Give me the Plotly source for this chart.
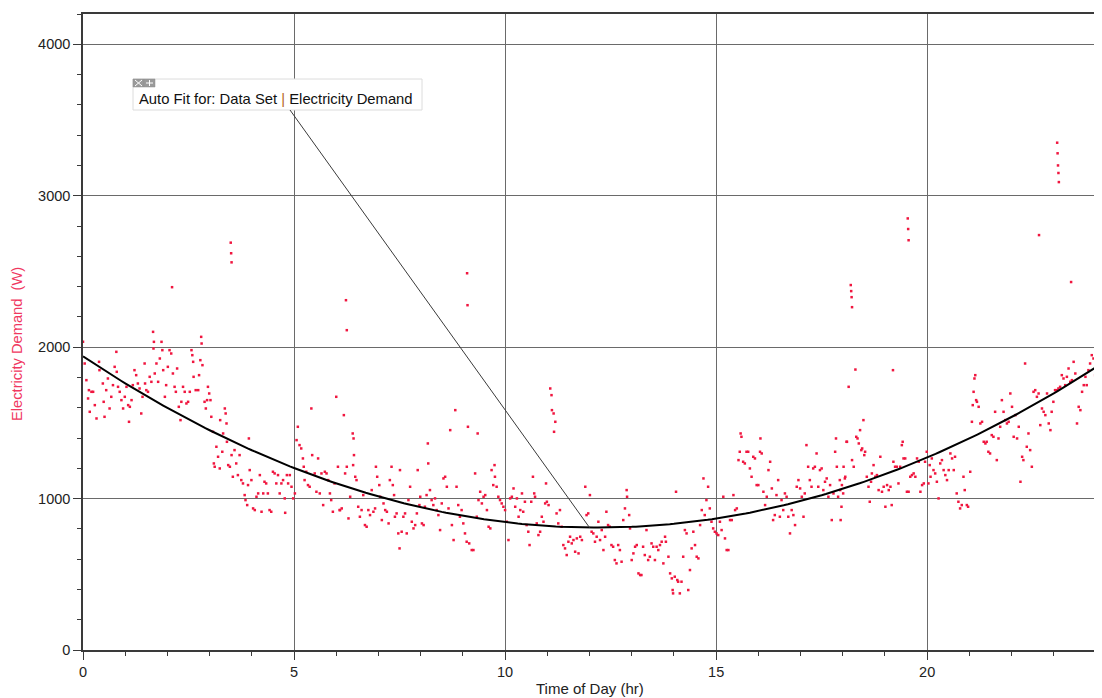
import plotly.graph_objects as go

# ---------------- data ----------------
# (time of day in hours, electricity demand in W)
early_morning = [
    (0.00, 2035), (0.04, 1892), (0.08, 1782), (0.14, 1716), (0.20, 1705), (0.12, 1661),
    (0.24, 1705), (0.28, 1617), (0.32, 1529), (0.16, 1573), (0.38, 1903), (0.39, 1848),
    (0.47, 1760), (0.49, 1639), (0.51, 1540), (0.55, 1716), (0.59, 1793), (0.63, 1595),
    (0.67, 1672), (0.71, 1749), (0.75, 1870), (0.79, 1969), (0.80, 1837), (0.83, 1738),
    (0.87, 1705), (0.91, 1650), (0.95, 1595), (0.99, 1672), (1.03, 1738), (1.07, 1617),
    (1.11, 1606), (1.09, 1507), (1.15, 1650), (1.18, 1749), (1.22, 1848), (1.26, 1815),
    (1.30, 1760), (1.34, 1727), (1.38, 1562), (1.41, 1672), (1.46, 1892), (1.47, 1760),
    (1.50, 1716), (1.54, 1705), (1.58, 1804), (1.62, 1771), (1.66, 2101), (1.67, 1991),
    (1.68, 2035), (1.70, 1826), (1.74, 1892), (1.78, 1771), (1.82, 1925), (1.86, 2035),
    (1.88, 1980), (1.90, 1848), (1.94, 1672), (1.97, 1749), (2.01, 1870), (2.05, 1980),
    (2.09, 1958), (2.13, 1826), (2.17, 1738), (2.20, 1705), (2.23, 1859), (2.27, 1606),
    (2.31, 1518), (2.33, 1639), (2.37, 1738), (2.41, 1705), (2.45, 1628), (2.49, 1639),
    (2.53, 1705), (2.57, 1980), (2.59, 1947), (2.61, 1903), (2.62, 1804), (2.67, 1716),
    (2.73, 1716), (2.75, 1815), (2.78, 1914), (2.80, 2068), (2.81, 2024), (2.83, 1881),
    (2.88, 1639), (2.91, 1595), (2.94, 1650), (2.96, 1738), (2.99, 1694), (3.02, 1650),
    (3.04, 1540), (3.08, 1441), (3.10, 1232), (3.12, 1210), (3.16, 1342), (3.20, 1276),
    (3.24, 1199), (3.25, 1518), (3.30, 1309), (3.32, 1430), (3.36, 1595), (3.38, 1562),
    (3.40, 1496), (3.41, 1375), (3.44, 1221), (3.48, 1210), (3.52, 1287), (3.55, 1144),
    (3.59, 1320), (3.63, 1232), (3.67, 1155), (3.71, 1287), (3.75, 1122), (3.79, 1100),
    (3.83, 1023), (3.85, 990), (3.89, 957), (3.91, 1089), (3.93, 1397), (3.95, 1188),
    (3.99, 1122), (4.03, 935), (4.07, 924), (4.11, 1012), (4.15, 1034), (4.19, 1155),
    (4.23, 913), (4.27, 1034), (4.30, 1111), (4.34, 1100), (4.38, 1034), (4.42, 924),
    (4.46, 913), (4.50, 1177), (4.54, 1166), (4.58, 1100), (4.62, 1155), (4.66, 1034),
    (4.70, 1100), (4.74, 1122), (4.78, 1001), (4.79, 906), (4.83, 1155), (4.86, 1100),
    (4.90, 1155), (4.94, 1078), (4.98, 1001), (5.02, 1034),
]

morning = [
    (5.06, 1386), (5.09, 1474), (5.13, 1353), (5.17, 1331), (5.21, 1265), (5.23, 1210),
    (5.25, 1122), (5.29, 1177), (5.33, 1089), (5.37, 1078), (5.41, 1595), (5.43, 1287),
    (5.49, 1166), (5.53, 1045), (5.57, 1265), (5.61, 1034), (5.65, 1166), (5.69, 957),
    (5.73, 1177), (5.77, 1166), (5.81, 1122), (5.85, 1034), (5.88, 990), (5.92, 913),
    (5.96, 1100), (6.00, 1672), (6.04, 1210), (6.08, 924),
    (6.09, 924), (6.13, 935), (6.18, 1551), (6.21, 1166), (6.25, 1210), (6.29, 869),
    (6.33, 1012), (6.39, 1430), (6.41, 1397), (6.42, 1287), (6.40, 1221), (6.45, 1144),
    (6.48, 1122), (6.52, 946), (6.56, 880), (6.60, 924), (6.64, 1023), (6.68, 825),
    (6.72, 814), (6.76, 924), (6.80, 891), (6.84, 1056), (6.88, 913), (6.92, 935),
    (6.94, 1210), (6.97, 1144), (7.02, 1089), (7.04, 1012), (7.08, 858), (7.12, 968),
    (7.16, 924), (7.20, 913), (7.24, 836), (7.27, 1122), (7.31, 1210), (7.34, 1089),
    (7.37, 1023), (7.39, 880), (7.43, 902), (7.47, 770), (7.50, 671), (7.51, 1188),
    (7.55, 781), (7.59, 880), (7.63, 902), (7.67, 770), (7.71, 990), (7.75, 1078),
    (7.79, 847), (7.83, 803), (7.87, 825), (7.91, 902), (7.93, 1188), (7.97, 957),
    (7.99, 1012), (8.03, 836), (8.07, 825), (8.10, 946), (8.14, 1023), (8.17, 1364),
    (8.18, 1232), (8.22, 1056), (8.26, 990), (8.30, 957), (8.34, 1001), (8.38, 924),
    (8.42, 891), (8.46, 792), (8.50, 968), (8.54, 1133), (8.58, 1144), (8.62, 1078),
    (8.66, 935), (8.70, 1452), (8.74, 825), (8.78, 726), (8.82, 1584), (8.85, 1078),
    (8.89, 957), (8.93, 880), (8.97, 924), (9.01, 836), (9.05, 770), (9.09, 715),
    (9.12, 1474), (9.15, 704), (9.21, 660), (9.25, 660), (9.29, 1166), (9.33, 880),
    (9.35, 1430), (9.37, 990), (9.41, 1045), (9.45, 968), (9.49, 1012), (9.53, 1023),
    (9.57, 924), (9.61, 814), (9.65, 803), (9.68, 1188), (9.72, 1089), (9.75, 1221),
    (9.76, 1144), (9.80, 1078), (9.84, 1012), (9.88, 990), (9.92, 968), (9.96, 946),
    (10.00, 924), (10.04, 847), (10.08, 726), (10.12, 1001), (10.16, 1012), (10.20, 1067),
    (10.24, 946), (10.28, 1001), (10.32, 880), (10.36, 924), (10.40, 1034), (10.43, 913),
    (10.47, 979), (10.51, 825), (10.55, 781), (10.58, 693), (10.62, 979), (10.66, 1144),
    (10.69, 1034), (10.71, 1012), (10.75, 836), (10.79, 759), (10.83, 781), (10.87, 880),
    (10.91, 847), (10.95, 968), (10.97, 1100), (10.99, 979), (11.03, 957), (11.07, 1727),
    (11.10, 1683), (11.11, 1584), (11.15, 1562), (11.16, 1441), (11.19, 1507), (11.22, 902),
    (11.26, 836), (11.30, 924), (11.34, 814), (11.38, 693), (11.42, 671), (11.46, 627),
    (11.50, 715), (11.54, 748), (11.58, 704), (11.62, 726), (11.66, 649), (11.70, 737),
    (11.74, 638), (11.78, 748), (11.82, 726), (11.90, 1078), (11.93, 891), (11.97, 902),
    (12.01, 1023), (12.05, 781), (12.13, 715), (12.17, 748), (12.21, 847),
]

afternoon = [
    (12.09, 770), (12.25, 726), (12.29, 792), (12.33, 660), (12.37, 748), (12.40, 913),
    (12.44, 825), (12.48, 814), (12.52, 693), (12.56, 682), (12.60, 594), (12.64, 572),
    (12.68, 693), (12.72, 660), (12.76, 583), (12.80, 858), (12.84, 935), (12.88, 1056),
    (12.89, 1012), (12.94, 891), (12.96, 803), (13.00, 594), (13.04, 638), (13.08, 682),
    (13.12, 693), (13.16, 506), (13.20, 495), (13.23, 495), (13.27, 682), (13.31, 627),
    (13.35, 792), (13.39, 594), (13.43, 616), (13.47, 704), (13.51, 682), (13.55, 594),
    (13.59, 682), (13.63, 660), (13.67, 693), (13.71, 715), (13.75, 572), (13.79, 748),
    (13.81, 715), (13.87, 616), (13.91, 506), (13.95, 473), (13.97, 396), (13.98, 374),
    (14.02, 484), (14.05, 1045), (14.08, 462), (14.10, 451), (14.14, 374), (14.18, 451),
    (14.22, 616), (14.26, 792), (14.30, 770), (14.34, 396), (14.38, 528), (14.42, 671),
    (14.46, 781), (14.50, 693), (14.54, 616), (14.58, 605), (14.62, 825), (14.66, 924),
    (14.70, 1133), (14.73, 891), (14.77, 990), (14.81, 1078), (14.85, 935), (14.89, 847),
    (14.93, 803), (14.97, 781), (15.01, 770), (15.05, 759), (15.09, 847), (15.13, 792),
    (15.17, 1012), (15.21, 737), (15.25, 660), (15.29, 660), (15.33, 858), (15.37, 858),
    (15.41, 1023), (15.45, 924), (15.49, 935), (15.53, 1254), (15.56, 1309), (15.58, 1430),
    (15.60, 1408), (15.64, 1243), (15.68, 1232), (15.72, 1309), (15.76, 1309), (15.80, 1199),
    (15.84, 1144), (15.88, 1276), (15.92, 1265), (15.96, 1089), (16.00, 1089), (16.04, 1309),
    (16.05, 1397), (16.08, 1298), (16.12, 1045), (16.16, 957), (16.20, 1012), (16.24, 1188),
    (16.28, 1243), (16.32, 1067), (16.35, 858), (16.39, 891), (16.43, 1023), (16.47, 1122),
    (16.51, 880), (16.55, 990), (16.59, 924), (16.63, 1034), (16.67, 1012), (16.71, 880),
    (16.75, 770), (16.79, 924), (16.83, 891), (16.87, 825), (16.91, 1078), (16.95, 1122),
    (16.99, 1067), (17.03, 1012), (17.07, 880), (17.10, 1034), (17.14, 1353), (17.18, 1210),
    (17.22, 1122), (17.26, 1078), (17.30, 1199), (17.34, 1210), (17.38, 1298), (17.42, 1078),
    (17.46, 1188), (17.50, 1199), (17.54, 1056), (17.58, 1111), (17.62, 1133), (17.66, 1012),
    (17.70, 1089), (17.74, 858), (17.78, 1034), (17.82, 1309), (17.84, 1397), (17.86, 1210),
    (17.89, 1012), (17.93, 1122), (17.97, 946), (18.01, 1034), (18.05, 1133), (18.09, 1375),
]

evening = [
    (17.94, 1056), (17.98, 1089), (17.95, 858), (18.02, 1210), (18.06, 1144), (18.10, 1375),
    (18.14, 1738), (18.22, 1254), (18.26, 1210), (18.30, 1852), (18.32, 1408), (18.35, 1397),
    (18.38, 1364), (18.41, 1452), (18.44, 1320), (18.46, 1331), (18.49, 1518), (18.51, 1287),
    (18.53, 1309), (18.57, 1144), (18.61, 1078), (18.64, 979), (18.67, 1111), (18.69, 1166),
    (18.73, 1221), (18.77, 1144), (18.81, 1155), (18.85, 1056), (18.89, 1276), (18.93, 1045),
    (18.97, 1078), (19.01, 946), (19.05, 1089), (19.09, 1056), (19.13, 1078), (19.16, 957),
    (19.19, 1848), (19.20, 1243), (19.24, 1210), (19.28, 1210), (19.32, 1100), (19.36, 1210),
    (19.40, 1353), (19.42, 1375), (19.44, 1265), (19.48, 1265), (19.52, 1045), (19.56, 1045),
    (19.60, 1144), (19.64, 1155), (19.68, 1166), (19.72, 1144), (19.76, 1265), (19.80, 1243),
    (19.84, 1045), (19.88, 1089), (19.92, 1100), (19.95, 1243), (19.99, 1309), (20.03, 1100),
    (20.06, 1221), (20.08, 1144), (20.11, 1265), (20.15, 1188), (20.19, 1166), (20.23, 1111),
    (20.27, 1001), (20.31, 1232), (20.35, 1254), (20.39, 1188), (20.43, 1155), (20.47, 1122),
    (20.51, 1188), (20.55, 1298), (20.59, 1265), (20.63, 1188), (20.66, 1276), (20.70, 1034),
    (20.74, 979), (20.78, 935), (20.82, 957), (20.86, 1144), (20.89, 1056), (20.94, 957),
    (20.97, 946), (21.02, 1177), (21.06, 1507), (21.08, 1617), (21.10, 1705), (21.12, 1793),
    (21.14, 1815), (21.16, 1650), (21.18, 1639), (21.22, 1606), (21.26, 1496), (21.30, 1507),
    (21.34, 1375), (21.38, 1364), (21.41, 1375), (21.45, 1309), (21.49, 1298), (21.53, 1419),
    (21.57, 1408), (21.61, 1573), (21.65, 1254), (21.69, 1397), (21.73, 1474), (21.77, 1650),
    (21.81, 1573), (21.85, 1518), (21.89, 1496), (21.93, 1507), (21.97, 1694), (22.01, 1606),
    (22.05, 1408), (22.09, 1551), (22.13, 1397), (22.17, 1474), (22.21, 1111), (22.25, 1276),
    (22.28, 1254), (22.32, 1892), (22.36, 1342), (22.40, 1430), (22.44, 1320), (22.48, 1210),
    (22.52, 1705), (22.56, 1716), (22.60, 1672), (22.64, 1694), (22.68, 1485), (22.72, 1595),
    (22.76, 1573), (22.80, 1551), (22.84, 1694), (22.88, 1496), (22.92, 1452), (22.95, 1573),
    (22.99, 1639), (23.03, 1716), (23.07, 1716), (23.11, 1727), (23.15, 1738), (23.19, 1815),
    (23.23, 1793), (23.27, 1749), (23.31, 1804), (23.35, 1859), (23.39, 1771), (23.43, 1782),
    (23.47, 1903), (23.51, 1826), (23.55, 1496), (23.59, 1606), (23.63, 1584), (23.67, 1705),
    (23.71, 1749), (23.75, 1804), (23.78, 1749), (23.82, 1848), (23.86, 1892), (23.90, 1947),
    (23.94, 1925), (23.98, 1815),
]

spikes = [
    (2.11, 2396), (3.50, 2690), (3.51, 2620), (3.52, 2560), (6.23, 2310), (6.25, 2112),
    (9.10, 2488), (9.11, 2277), (18.19, 2410), (18.20, 2370), (18.21, 2330), (18.22, 2264),
    (19.54, 2850), (19.55, 2780), (19.56, 2706), (22.65, 2740), (23.08, 3350),
    (23.09, 3280), (23.10, 3200), (23.11, 3150), (23.12, 3090), (23.41, 2430),
]

# quadratic auto-fit coefficients: demand = A*t^2 + B*t + C
FIT_A, FIT_B, FIT_C = 7.6, -185.4, 1939.0

X_TICKS = [0, 5, 10, 15, 20]
Y_TICKS = [0, 1000, 2000, 3000, 4000]
X_RANGE = [0, 24]
Y_RANGE = [0, 4200]

# ---------------- figure ----------------
points = early_morning + morning + afternoon + evening + spikes
tx = [p[0] for p in points]
wy = [p[1] for p in points]

fit_t = [i / 10 for i in range(0, 241)]
fit_w = [FIT_A * t * t + FIT_B * t + FIT_C for t in fit_t]

FONT = "Liberation Sans, Arial, sans-serif"
RED = "#f0163f"

fig = go.Figure()
fig.add_trace(go.Scatter(
    x=tx, y=wy, mode="markers",
    marker=dict(size=2.5, color=RED, symbol="square", line=dict(width=0)),
    hoverinfo="skip", showlegend=False,
))
fig.add_trace(go.Scatter(
    x=fit_t, y=fit_w, mode="lines",
    line=dict(color="#000000", width=2),
    hoverinfo="skip", showlegend=False,
))

# target plot area in page pixels: left 83, right 1096, top 14, bottom 650
# (the page body has an 8 px margin, so the figure itself starts at 8,8)
L, R, T, B = 83, 1096, 14, 650
OFF = 8
FIG_W, FIG_H = 1102 - OFF, 698 - OFF

def px(xp):
    return (xp - L) / (R - L)

def py(yp):
    return (B - yp) / (B - T)

shapes = []
# annotation box
shapes.append(dict(type="rect", xref="paper", yref="paper",
                   x0=px(133), x1=px(422), y0=py(110), y1=py(79),
                   line=dict(color="#dcdcdc", width=1), fillcolor="white", layer="above"))
# small icons (close / move)
for a, b in [(133, 144), (144, 155)]:
    shapes.append(dict(type="rect", xref="paper", yref="paper",
                       x0=px(a), x1=px(b), y0=py(87), y1=py(79),
                       line=dict(color="#8c8c8c", width=0.5), fillcolor="#9a9a9a", layer="above"))
shapes.append(dict(type="line", xref="paper", yref="paper", x0=px(135), x1=px(142),
                   y0=py(80), y1=py(86), line=dict(color="white", width=1), layer="above"))
shapes.append(dict(type="line", xref="paper", yref="paper", x0=px(135), x1=px(142),
                   y0=py(86), y1=py(80), line=dict(color="white", width=1), layer="above"))
shapes.append(dict(type="line", xref="paper", yref="paper", x0=px(149.5), x1=px(149.5),
                   y0=py(80), y1=py(86), line=dict(color="white", width=1), layer="above"))
shapes.append(dict(type="line", xref="paper", yref="paper", x0=px(146), x1=px(153),
                   y0=py(83), y1=py(83), line=dict(color="white", width=1), layer="above"))
# leader line from box to curve at t = 12
t_pt = 12.0
shapes.append(dict(type="line", xref="paper", yref="y",
                   x0=px(290), y0=(B - 110) / (B - T) * Y_RANGE[1],
                   x1=t_pt / X_RANGE[1], y1=FIT_A * t_pt ** 2 + FIT_B * t_pt + FIT_C,
                   line=dict(color="#3a3a3a", width=1), layer="above"))

annotations = [
    dict(xref="paper", yref="paper", x=px(137), y=py(99), xanchor="left", yanchor="middle",
         text="Auto Fit for: Data Set <span style='color:#b5651d'>|</span> Electricity Demand",
         showarrow=False, font=dict(family=FONT, size=14.8, color="#111111")),
    dict(xref="paper", yref="paper", x=px(590), y=py(688), xanchor="center", yanchor="middle",
         text="Time of Day (hr)", showarrow=False,
         font=dict(family=FONT, size=15, color="#222222")),
    dict(xref="paper", yref="paper", x=px(17), y=py(344), xanchor="center", yanchor="middle",
         text="Electricity Demand\u00a0 (W)", textangle=-90, showarrow=False,
         font=dict(family=FONT, size=14.7, color="#f0385f")),
]

fig.update_layout(
    width=FIG_W, height=FIG_H,
    margin=dict(l=L - OFF, r=1102 - R, t=T - OFF, b=698 - B, autoexpand=False),
    paper_bgcolor="white", plot_bgcolor="white",
    font=dict(family=FONT, size=14, color="#222222"),
    shapes=shapes, annotations=annotations,
    showlegend=False,
)
fig.update_xaxes(
    range=X_RANGE, tickvals=X_TICKS, ticktext=[str(v) for v in X_TICKS],
    showgrid=True, gridcolor="#6a6a6a", gridwidth=1, zeroline=False,
    showline=True, linecolor="#3a3a3a", linewidth=1.5, mirror=True,
    ticks="outside", ticklen=8, tickcolor="#3a3a3a", tickwidth=1,
    minor=dict(dtick=1, tick0=0, ticks="outside", ticklen=4, tickcolor="#3a3a3a", showgrid=False),
    tickfont=dict(family=FONT, size=14.5, color="#222222"),
)
fig.update_yaxes(
    range=Y_RANGE, tickvals=Y_TICKS, ticktext=[str(v) for v in Y_TICKS],
    showgrid=True, gridcolor="#6a6a6a", gridwidth=1, zeroline=False,
    showline=True, linecolor="#3a3a3a", linewidth=1.5, mirror=True,
    ticks="outside", ticklen=8, tickcolor="#3a3a3a", tickwidth=1,
    minor=dict(dtick=200, tick0=0, ticks="outside", ticklen=4, tickcolor="#3a3a3a", showgrid=False),
    tickfont=dict(family=FONT, size=14.5, color="#222222"),
)

fig.write_html("out.html")
